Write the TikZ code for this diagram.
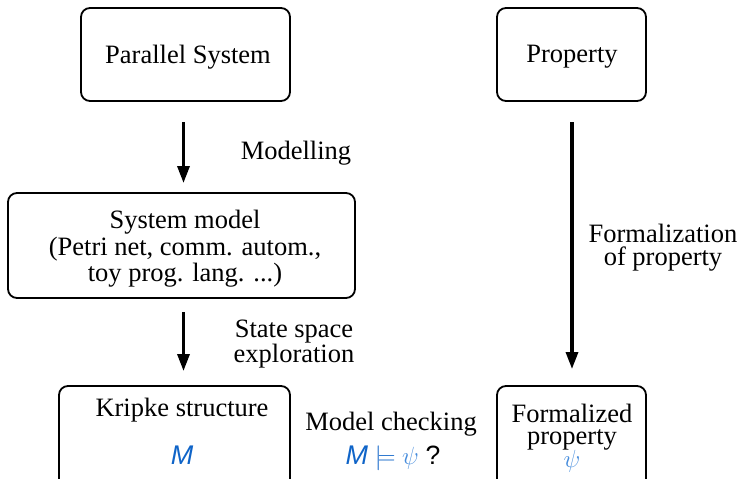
\documentclass[tikz,border=0pt]{standalone}
\usepackage{fontspec}
\setmainfont{Liberation Serif}
\newfontfamily\helv{Liberation Sans}
\usetikzlibrary{arrows.meta}
\definecolor{mblue}{RGB}{15,100,200}
\definecolor{pblue}{RGB}{70,140,220}
\begin{document}
\begin{tikzpicture}[x=1pt,y=-1pt,
  box/.style={draw,line width=1.8pt,rounded corners=9pt,inner sep=0pt},
  flow/.style={line width=3.3pt,-{Triangle[length=17pt,width=12pt]}},
  lbl/.style={font=\fontsize{26.5}{23}\selectfont,align=center,inner sep=0pt}]
\useasboundingbox (0,0) rectangle (740,479);
% boxes
\node[box,minimum width=209pt,minimum height=93pt] (ps) at (185.5,54.5) {};
\node[lbl] (pst) at (188,57) {Parallel System};
\node[box,minimum width=149pt,minimum height=93pt] (pr) at (571.5,54.5) {};
\node[lbl] (prt) at (572,57) {Property};
\node[box,minimum width=347pt,minimum height=105pt] (sm) at (181.5,245.5) {};
\node[lbl,font=\fontsize{26.5}{26.5}\selectfont] (smt) at (185,249) {System model\\(Petri net, comm. autom.,\\toy prog. lang. ...)};
\node[box,minimum width=231pt,minimum height=110pt] (ks) at (174.5,441) {};
\node[lbl] (kst) at (182,410) {Kripke structure};
\node[font=\fontsize{27}{27}\selectfont\helv\itshape,text=mblue,inner sep=0pt] (m) at (182,455) {M};
\node[box,minimum width=149pt,minimum height=110pt] (fp) at (571.5,441) {};
\node[lbl,font=\fontsize{26.5}{22}\selectfont] (fpt) at (572,427) {Formalized\\property};
\node[lbl,text=pblue] (psi) at (572,461) {$\psi$};
% arrows
\coordinate (a1s) at (183.5,122); \coordinate (a1e) at (183.5,183);
\draw[flow] (a1s) -- (a1e);
\node[lbl] (l1) at (296,153) {Modelling};
\coordinate (a2s) at (183.5,312); \coordinate (a2e) at (183.5,371);
\draw[flow] (a2s) -- (a2e);
\node[lbl,font=\fontsize{26.5}{25}\selectfont] (l2) at (294,344) {State space\\exploration};
\coordinate (a3s) at (572,122); \coordinate (a3e) at (572,369);
\draw[flow] (a3s) -- (a3e);
\node[lbl] (l3) at (663,248) {Formalization\\of property};
% model checking question
\node[lbl] (mc) at (391,424) {Model checking};
\node[lbl] (q) at (393,458) {{\color{mblue}\fontsize{27}{27}\selectfont\helv\itshape M} {\color{mblue}$\models$} {\color{pblue}$\psi$} {\helv ?}};
\end{tikzpicture}
\end{document}
